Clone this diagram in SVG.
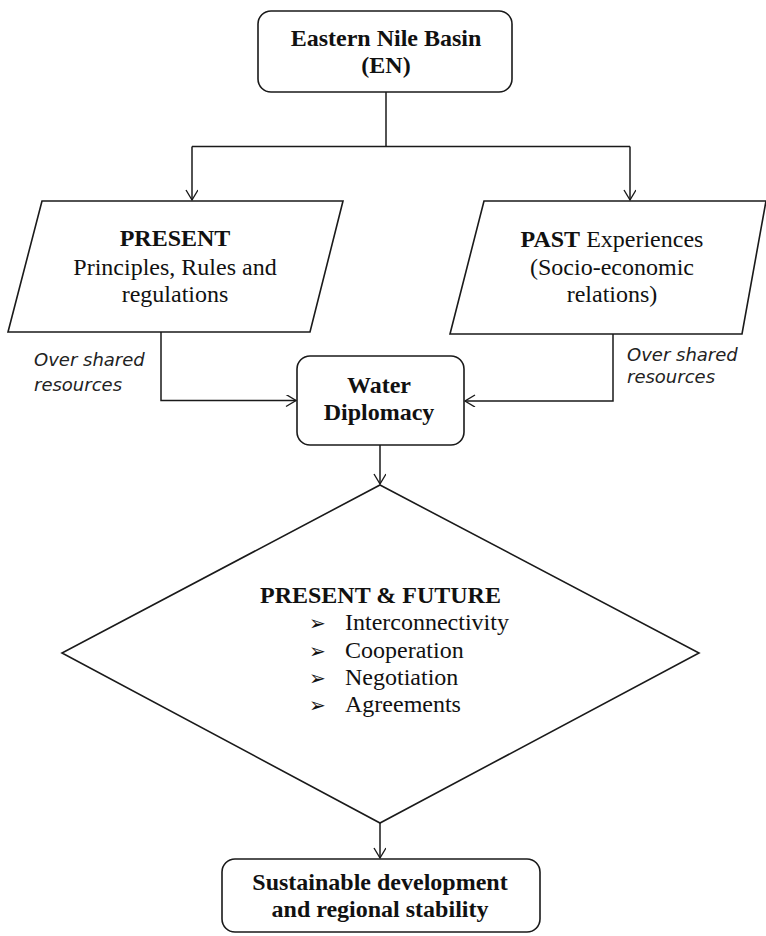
<svg xmlns="http://www.w3.org/2000/svg" width="766" height="936" viewBox="0 0 766 936">
<defs>
<marker id="arr" markerWidth="14" markerHeight="14" refX="11" refY="6" orient="auto" markerUnits="userSpaceOnUse">
<path d="M1,0 L11,6 L1,12" fill="none" stroke="#1a1a1a" stroke-width="1.4"/>
</marker>
<style>
.shape{fill:#fff;stroke:#1a1a1a;stroke-width:1.6}
.conn{fill:none;stroke:#1a1a1a;stroke-width:1.5}
.b{font-family:"Liberation Serif","Times New Roman",serif;font-weight:bold;font-size:24px;fill:#111;text-anchor:middle}
.r{font-family:"Liberation Serif","Times New Roman",serif;font-size:24px;fill:#111}
.c{text-anchor:middle}
.it{font-family:"DejaVu Sans",sans-serif;font-style:italic;font-size:18px;fill:#222}
.bul{font-family:"DejaVu Sans",sans-serif;font-size:20px;fill:#111}
</style>
</defs>
<rect width="766" height="936" fill="#fff"/>
<g id="connectors">
<path class="conn" d="M386,92 V146.5"/>
<path class="conn" d="M192,146.5 H630"/>
<path class="conn" d="M192,146.5 V200" marker-end="url(#arr)"/>
<path class="conn" d="M630,146.5 V200" marker-end="url(#arr)"/>
<path class="conn" d="M161,332 V400.5 H296" marker-end="url(#arr)"/>
<path class="conn" d="M613,334 V401 H465" marker-end="url(#arr)"/>
<path class="conn" d="M380,445 V484" marker-end="url(#arr)"/>
<path class="conn" d="M380,823 V858" marker-end="url(#arr)"/>
</g>
<g id="node-en">
<rect class="shape" x="258" y="11" width="254" height="81" rx="13"/>
<text class="b" x="386" y="46">Eastern Nile Basin</text>
<text class="b" x="386" y="73">(EN)</text>
</g>
<g id="node-present">
<polygon class="shape" points="42,201 343,201 310,332 8,332"/>
<text class="b" x="175" y="246">PRESENT</text>
<text class="r c" x="175" y="275">Principles, Rules and</text>
<text class="r c" x="175" y="302">regulations</text>
</g>
<g id="node-past">
<polygon class="shape" points="484,201 766,201 742,334 450,334"/>
<text class="r c" x="612" y="247"><tspan font-weight="bold">PAST</tspan> Experiences</text>
<text class="r c" x="612" y="275">(Socio-economic</text>
<text class="r c" x="612" y="302">relations)</text>
</g>
<g id="label-left">
<text class="it" x="34" y="366">Over shared</text>
<text class="it" x="34" y="391">resources</text>
</g>
<g id="label-right">
<text class="it" x="627" y="361">Over shared</text>
<text class="it" x="627" y="383">resources</text>
</g>
<g id="node-wd">
<rect class="shape" x="297" y="356" width="167" height="89" rx="13"/>
<text class="b" x="379" y="393">Water</text>
<text class="b" x="379" y="420">Diplomacy</text>
</g>
<g id="node-future">
<polygon class="shape" points="380,485 699,653 380,823 62,653"/>
<text class="b" x="260" y="603" style="text-anchor:start">PRESENT &amp; FUTURE</text>
<text class="bul" x="309" y="630">➢</text>
<text class="r" x="345" y="630">Interconnectivity</text>
<text class="bul" x="309" y="658">➢</text>
<text class="r" x="345" y="658">Cooperation</text>
<text class="bul" x="309" y="685">➢</text>
<text class="r" x="345" y="685">Negotiation</text>
<text class="bul" x="309" y="712">➢</text>
<text class="r" x="345" y="712">Agreements</text>
</g>
<g id="node-sd">
<rect class="shape" x="222" y="859" width="318" height="73" rx="13"/>
<text class="b" x="380" y="890">Sustainable development</text>
<text class="b" x="380" y="917">and regional stability</text>
</g>
</svg>
